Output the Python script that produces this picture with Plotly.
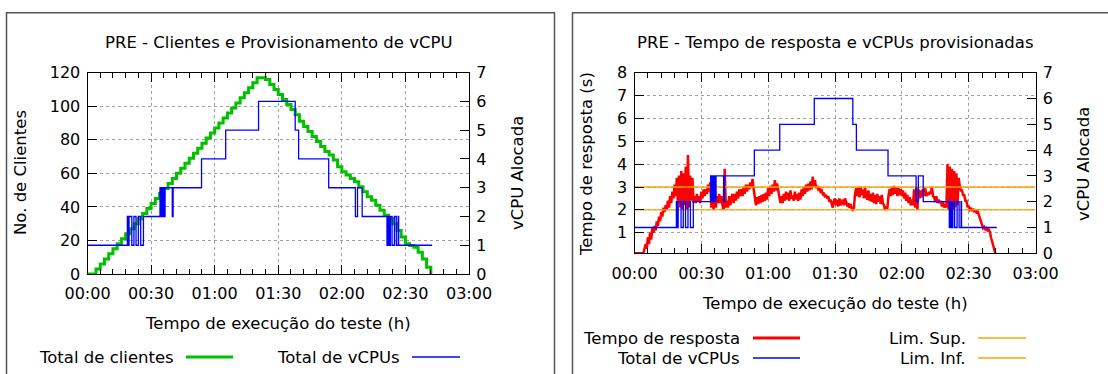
import plotly.graph_objects as go

W, H = 1108, 374

# ---------------- data ----------------
hour_ticks = [0, 30, 60, 90, 120, 150, 180]
hour_labels = ["00:00", "00:30", "01:00", "01:30", "02:00", "02:30", "03:00"]

# Total de clientes (minutes, clients)
clients_time = [0, 2, 4, 6, 8, 10, 12, 14, 16, 18, 20, 22, 24, 26, 28, 30, 32, 34, 36, 38,
                40, 42, 44, 46, 48, 50, 52, 54, 56, 58, 60, 62, 64, 66, 68, 70, 72, 74, 76, 78,
                80, 82, 84, 86, 88, 90, 92, 94, 96, 98, 100, 102, 104, 106, 108, 110, 112, 114, 116, 118,
                120, 122, 124, 126, 128, 130, 132, 134, 136, 138, 140, 142, 144, 146, 148, 150, 152, 154, 156, 158,
                160, 162]
clients_value = [0, 0, 3, 6, 9, 12, 15, 18, 21, 24, 27, 30, 33, 36, 39, 42, 45, 48, 51, 54,
                 57, 60, 63, 66, 69, 72, 75, 78, 81, 84, 87, 90, 93, 96, 99, 102, 105, 108, 111, 114,
                 117, 117, 116, 113, 110, 107, 104, 101, 98, 95, 91, 88, 85, 82, 79, 76, 73, 71, 68, 64,
                 61, 59, 57, 55, 52, 49, 46, 44, 41, 38, 35, 33, 30, 26, 22, 18, 17, 16, 13, 9,
                 4, 0]

# Total de vCPUs (minutes, vCPUs) - step function
vcpu_time = [0, 18.8, 19.0, 19.2, 19.4, 19.6, 20.9, 21.9, 22.9, 24.0, 25.1, 26.4,
             34.2, 34.5, 34.8, 35.1, 35.4, 35.7, 36.0, 36.3, 36.6, 40.0, 40.4,
             53.8, 65.2, 80.7, 98.0, 99.6, 113.8, 126.4, 127.4, 129.6,
             141.3, 141.6, 141.9, 142.2, 142.5, 142.9, 143.7, 144.8, 145.7, 146.6, 146.8,
             162.6]
vcpu_value = [1, 2, 1, 2, 1, 2, 1, 2, 1, 2, 1, 2,
              3, 2, 3, 2, 3, 2, 3, 2, 3, 2, 3,
              4, 5, 6, 5, 4, 3, 2, 3, 2,
              1, 2, 1, 2, 1, 2, 1, 2, 1, 2, 1,
              1]

# Tempo de resposta (s), sampled every 0.5 min from 00:00
rt_start_min = 0.0
rt_step_min = 0.5
rt_value = [
    0.1, 0.1, 0.1, 0.1, 0.1, 0.1, 0.1, 0.1, 0.1, 0.3,
    0.5, 0.3, 0.8, 0.5, 1.0, 0.7, 1.2, 1.0, 1.3, 1.1,
    1.5, 1.3, 1.7, 1.5, 1.9, 1.7, 2.1, 1.9, 2.2, 2.0,
    2.4, 2.1, 2.6, 2.3, 2.8, 2.5, 3.1, 2.6, 3.4, 2.3,
    3.5, 2.1, 3.7, 2.0, 3.6, 2.2, 3.9, 2.0, 4.4, 2.1,
    3.5, 2.4, 3.4, 2.3, 2.6, 2.3, 2.7, 2.4, 2.6, 2.3,
    2.8, 2.5, 2.9, 2.6, 2.9, 2.7, 3.1, 2.8, 3.2, 2.1,
    3.3, 2.0, 3.2, 2.1, 2.6, 2.3, 2.7, 2.3, 2.6, 2.2,
    2.0, 3.8, 2.1, 2.4, 2.1, 2.6, 2.2, 2.5, 2.7, 2.3,
    2.7, 2.4, 2.8, 2.5, 2.9, 2.6, 2.9, 2.6, 3.0, 2.7,
    3.1, 2.8, 3.1, 2.9, 3.2, 3.0, 3.35, 2.9, 2.5, 2.2,
    2.55, 2.25, 2.6, 2.3, 2.65, 2.35, 2.7, 2.4, 2.75, 2.45,
    2.95, 2.6, 3.05, 2.7, 3.1, 2.8, 3.3, 2.85, 3.15, 2.8,
    2.6, 2.3, 2.6, 2.3, 2.7, 2.4, 2.8, 2.45, 2.75, 2.4,
    2.85, 2.5, 2.55, 2.4, 2.8, 2.45, 2.7, 2.4, 2.75, 2.45,
    2.9, 2.6, 3.0, 2.7, 3.1, 2.8, 3.15, 2.85, 3.25, 2.9,
    3.45, 3.0, 3.3, 2.95, 3.05, 2.9, 2.95, 2.8, 2.85, 2.7,
    2.75, 2.55, 2.65, 2.5, 2.6, 2.35, 2.45, 2.2, 2.1, 2.4,
    2.5, 2.2, 2.45, 2.15, 2.5, 2.2, 2.3, 2.45, 2.2, 2.5,
    2.35, 2.15, 2.3, 2.1, 2.25, 2.05, 2.0, 2.1, 2.7, 2.95,
    2.6, 2.95, 2.55, 3.0, 2.65, 2.9, 2.5, 2.95, 2.6, 2.45,
    2.85, 2.4, 2.7, 2.35, 2.75, 2.3, 2.65, 2.25, 2.7, 2.35,
    2.6, 2.25, 2.65, 2.3, 2.2, 2.0, 2.15, 2.05, 2.6, 2.9,
    2.6, 3.0, 2.65, 3.05, 2.7, 3.0, 2.6, 2.95, 2.65, 2.9,
    2.6, 2.85, 2.5, 2.75, 2.4, 2.65, 2.3, 2.55, 2.2, 2.45,
    2.2, 2.9, 2.1, 3.0, 2.0, 2.9, 2.5, 2.85, 2.55, 2.9,
    2.6, 2.95, 2.6, 2.75, 2.65, 2.8, 2.7, 3.0, 2.6, 2.55,
    2.35, 2.6, 2.3, 2.45, 2.3, 2.4, 2.15, 2.35, 2.1, 2.25,
    2.1, 4.0, 2.0, 3.9, 2.1, 3.8, 2.0, 3.7, 2.1, 3.6,
    2.2, 3.4, 3.05, 2.85, 2.85, 2.65, 2.65, 2.4, 2.4, 2.15,
    2.15, 2.0, 2.05, 1.95, 2.05, 1.9, 2.0, 1.9, 1.95, 1.8,
    1.7, 1.5, 1.3, 1.2, 1.25, 1.15, 1.2, 1.1, 1.15, 1.05,
    0.8, 0.6, 0.4, 0.3, 0.1,
]
rt_time = [rt_start_min + i * rt_step_min for i in range(len(rt_value))]

lim_sup = 3.0
lim_inf = 2.0
limit_span = [0, 180]

# ---------------- styling ----------------
FONT = "DejaVu Sans"
TICK_FS = 16
LAB_FS = 16.5
GREEN = "#00c000"
BLUE = "#0000ff"
RED = "#ff0000"
ORANGE = "#ffa500"
GRID = "#a0a0a0"


def px(x):
    return x / W


def py(y):
    return 1 - y / H


fig = go.Figure()

# Left panel
fig.add_trace(go.Scatter(x=clients_time, y=clients_value, mode="lines", line_shape="hv",
                         line=dict(color=GREEN, width=3), xaxis="x", yaxis="y",
                         name="Total de clientes"))
fig.add_trace(go.Scatter(x=vcpu_time, y=vcpu_value, mode="lines", line_shape="hv",
                         line=dict(color=BLUE, width=1.3), xaxis="x", yaxis="y2",
                         name="Total de vCPUs"))

# Right panel
fig.add_trace(go.Scatter(x=rt_time, y=rt_value, mode="lines",
                         line=dict(color=RED, width=2.5), xaxis="x2", yaxis="y3",
                         name="Tempo de resposta"))
fig.add_trace(go.Scatter(x=limit_span, y=[lim_sup, lim_sup], mode="lines",
                         line=dict(color=ORANGE, width=1.3), xaxis="x2", yaxis="y3",
                         name="Lim. Sup."))
fig.add_trace(go.Scatter(x=limit_span, y=[lim_inf, lim_inf], mode="lines",
                         line=dict(color=ORANGE, width=1.3), xaxis="x2", yaxis="y3",
                         name="Lim. Inf."))
fig.add_trace(go.Scatter(x=vcpu_time, y=vcpu_value, mode="lines", line_shape="hv",
                         line=dict(color=BLUE, width=1.3), xaxis="x2", yaxis="y4",
                         name="Total de vCPUs"))

tickfont = dict(family=FONT, size=TICK_FS, color="black")

xcommon = dict(range=[0, 180], tickmode="array", tickvals=hour_ticks, ticktext=hour_labels,
               ticks="inside", ticklen=9, tickcolor="black", tickwidth=1,
               minor=dict(ticks="inside", ticklen=5, tickmode="linear", tick0=0, dtick=6,
                          tickcolor="black", showgrid=False),
               showline=True, linecolor="black", linewidth=1, mirror="ticks",
               showgrid=True, gridcolor=GRID, griddash="dot", gridwidth=1,
               zeroline=False, tickfont=tickfont, fixedrange=True, automargin=False,
               ticklabelstandoff=5)

ycommon = dict(ticks="inside", ticklen=9, tickcolor="black", tickwidth=1,
               showline=True, linecolor="black", linewidth=1,
               zeroline=False, tickfont=tickfont, fixedrange=True, automargin=False,
               ticklabelstandoff=3)

fig.update_layout(
    width=W, height=H, autosize=False,
    margin=dict(l=0, r=0, t=0, b=0, pad=0, autoexpand=False),
    paper_bgcolor="white", plot_bgcolor="white", showlegend=False,
    font=dict(family=FONT, color="black"),
    xaxis=dict(domain=[px(87.5), px(469)], anchor="y", **xcommon),
    yaxis=dict(domain=[py(274), py(72.7)], anchor="x", range=[0, 120], tickmode="linear",
               tick0=0, dtick=20, showgrid=True, gridcolor=GRID, griddash="dot", **ycommon),
    yaxis2=dict(overlaying="y", side="right", anchor="x", range=[0, 7], tickmode="linear",
                tick0=0, dtick=1, showgrid=False, **ycommon),
    xaxis2=dict(domain=[px(634.5), px(1035.5)], anchor="y3", **xcommon),
    yaxis3=dict(domain=[py(253.3), py(72.7)], anchor="x2", range=[0.1, 8], tickmode="array",
                tickvals=[1, 2, 3, 4, 5, 6, 7, 8], showgrid=True, gridcolor=GRID, griddash="dot",
                **ycommon),
    yaxis4=dict(overlaying="y3", side="right", anchor="x2", range=[0, 7], tickmode="linear",
                tick0=0, dtick=1, showgrid=False, **ycommon),
)

ann = []


def text(x, y, s, size=LAB_FS, xanchor="center", angle=0):
    ann.append(dict(x=px(x), y=py(y), xref="paper", yref="paper", text=s, showarrow=False,
                    xanchor=xanchor, yanchor="middle", textangle=angle,
                    font=dict(family=FONT, size=size, color="black")))


# titles
text(278, 42, "PRE - Clientes e Provisionamento de vCPU")
text(835, 42, "PRE - Tempo de resposta e vCPUs provisionadas")
# axis titles
text(278, 323, "Tempo de execução do teste (h)")
text(835, 303, "Tempo de execução do teste (h)")
text(20, 173, "No. de Clientes", angle=-90)
text(517, 173, "vCPU Alocada", angle=-90)
text(586, 164, "Tempo de resposta (s)", angle=-90)
text(1083, 164, "vCPU Alocada", angle=-90)
# legends
text(176, 357, "Total de clientes", xanchor="right")
text(402, 357, "Total de vCPUs", xanchor="right")
text(742, 338, "Tempo de resposta", xanchor="right")
text(742, 358, "Total de vCPUs", xanchor="right")
text(968, 338, "Lim. Sup.", xanchor="right")
text(968, 358, "Lim. Inf.", xanchor="right")
fig.update_layout(annotations=ann)

shapes = []


def hline(x0, x1, y, color, width):
    shapes.append(dict(type="line", xref="paper", yref="paper", x0=px(x0), x1=px(x1),
                       y0=py(y), y1=py(y), line=dict(color=color, width=width)))


def vline(x, y0, y1, color, width):
    shapes.append(dict(type="line", xref="paper", yref="paper", x0=px(x), x1=px(x),
                       y0=py(y0), y1=py(y1), line=dict(color=color, width=width)))


# legend samples
hline(186, 233, 357, GREEN, 3)
hline(412, 460, 357, BLUE, 1.3)
hline(753, 800, 338, RED, 3)
hline(753, 800, 358, BLUE, 1.3)
hline(978, 1026, 338, ORANGE, 1.3)
hline(978, 1026, 358, ORANGE, 1.3)

# panel frames
BOX = "#555555"
hline(6, 555, 12.7, BOX, 1.5)
vline(6.5, 12.7, 374, BOX, 1.5)
vline(554.5, 12.7, 374, BOX, 1.5)
hline(572, 1108, 12.7, BOX, 1.5)
vline(572.5, 12.7, 374, BOX, 1.5)
fig.update_layout(shapes=shapes)

fig.write_html(
    "out.html",
    config={"displayModeBar": False, "staticPlot": True},
    post_script="document.body.style.margin='0';document.body.style.overflow='hidden';",
)
